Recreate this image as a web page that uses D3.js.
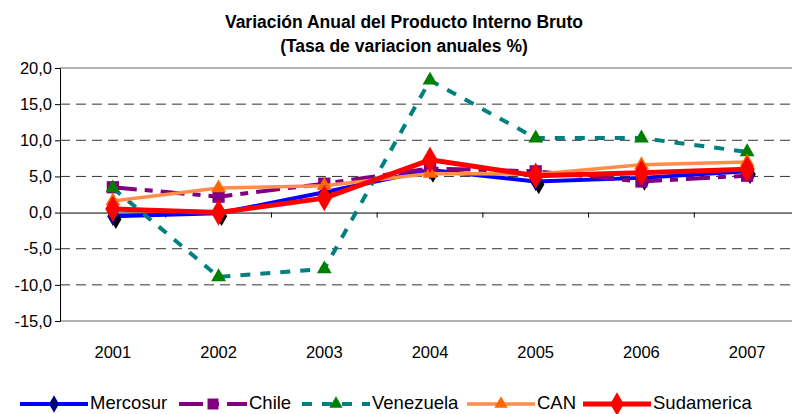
<!DOCTYPE html>
<html>
<head>
<meta charset="utf-8">
<script src="https://cdn.jsdelivr.net/npm/d3@7"></script>
<style>
  body { margin: 0; background: #fff; }
  svg { display: block; font-family: "Liberation Sans", Arial, sans-serif; }
</style>
</head>
<body>
<div id="chart"></div>
<script>
// data
const years = ['2001', '2002', '2003', '2004', '2005', '2006', '2007'];
const mercosur   = [-0.5, -0.1, 2.8, 5.9, 4.3, 4.8, 5.7];
const chile      = [3.5, 2.2, 4.0, 6.1, 5.7, 4.3, 5.1];
const venezuela  = [3.4, -8.9, -7.8, 18.3, 10.3, 10.3, 8.4];
const can        = [1.6, 3.4, 3.7, 5.4, 5.3, 6.6, 7.0];
const sudamerica = [0.5, 0.0, 2.0, 7.3, 5.1, 5.5, 6.0];
const yTicks = [20, 15, 10, 5, 0, -5, -10, -15];

const series = [
    { name: 'Mercosur', values: mercosur, color: '#0000ff', width: 4, dash: null, marker: 'diamond', mColor: '#000080', mSize: 110, shadow: true },
    { name: 'Chile', values: chile, color: '#800080', width: 4, dash: '24,8,8,8', marker: 'square', mColor: '#800080', mSize: 150 },
    { name: 'Venezuela', values: venezuela, color: '#008080', width: 4, dash: '10,10', marker: 'triangle', mColor: '#008000', mSize: 95 },
    { name: 'CAN', values: can, color: '#ff8c4a', width: 3.5, dash: null, marker: 'triangle', mColor: '#ff6600', mSize: 95 },
    { name: 'Sudamerica', values: sudamerica, color: '#ff0000', width: 5, dash: null, marker: 'diamond', mColor: '#ff0000', mSize: 200 }
];

const W = 792, H = 414;
const svg = d3.select('#chart').append('svg')
    .attr('width', W).attr('height', H);

const x = d3.scaleBand().domain(years).range([60, 800]);
const y = d3.scaleLinear().domain([-15, 20]).range([321, 68]);
const cx = d => x(d) + x.bandwidth() / 2;

// title
svg.append('text').attr('x', 404).attr('y', 28)
    .attr('text-anchor', 'middle').attr('font-size', 17.5).attr('font-weight', 'bold')
    .text('Variación Anual del Producto Interno Bruto');
svg.append('text').attr('x', 404).attr('y', 52)
    .attr('text-anchor', 'middle').attr('font-size', 17.5).attr('font-weight', 'bold')
    .text('(Tasa de variacion anuales %)');

//Gridlines
svg.append('g').selectAll('line')
    .data(yTicks.filter(d => d != 0 && d != 20 && d != -15))
    .enter().append('line')
    .attr('x1', 60).attr('x2', W)
    .attr('y1', d => y(d)).attr('y2', d => y(d))
    .attr('stroke', '#333').attr('stroke-width', 1)
    .attr('stroke-dasharray', '10,6');

// frame top / bottom
svg.append('line').attr('x1', 60).attr('x2', W).attr('y1', y(20)).attr('y2', y(20))
    .attr('stroke', '#999').attr('stroke-width', 1.5);
svg.append('line').attr('x1', 60).attr('x2', W).attr('y1', y(-15)).attr('y2', y(-15))
    .attr('stroke', '#999').attr('stroke-width', 1.5);

// y axis
const yAxis = svg.append('g')
    .attr('transform', 'translate(60,0)')
    .call(d3.axisLeft(y).tickValues(yTicks).tickSize(5)
        .tickFormat(d => d3.format('.1f')(d).replace('.', ',').replace('−', '-')));
yAxis.select('.domain').attr('stroke', '#000');
yAxis.selectAll('text').attr('font-size', 16.5).attr('fill', '#000')
    .attr('font-family', '"Liberation Sans", Arial, sans-serif');

// x axis at zero
const xAxis = svg.append('g')
    .attr('transform', `translate(0,${y(0)})`)
    .call(d3.axisBottom(x).tickSize(0).tickFormat(''));
xAxis.select('.domain').attr('stroke', '#000');
svg.append('g').selectAll('line')
    .data(years.slice(1))
    .enter().append('line')
    .attr('x1', d => x(d)).attr('x2', d => x(d))
    .attr('y1', y(0)).attr('y2', y(0) + 5)
    .attr('stroke', '#000');

// x labels at bottom
svg.append('g').selectAll('text')
    .data(years).enter().append('text')
    .attr('x', d => cx(d)).attr('y', 358)
    .attr('text-anchor', 'middle').attr('font-size', 16.5)
    .text(d => d);

const symType = { diamond: d3.symbolDiamond, square: d3.symbolSquare, triangle: d3.symbolTriangle };

//Render lines
const line = d3.line().x((d, i) => cx(years[i])).y(d => y(d));

series.forEach(s => {
    svg.append('path')
        .datum(s.values)
        .attr('fill', 'none')
        .attr('stroke', s.color)
        .attr('stroke-width', s.width)
        .attr('stroke-dasharray', s.dash)
        .attr('stroke-linejoin', 'round')
        .attr('d', line);

    const sym = d3.symbol().type(symType[s.marker]).size(s.mSize);
    const g = svg.append('g');
    if (s.shadow) {
        g.selectAll('.sh').data(s.values).enter().append('path')
            .attr('transform', (d, i) => `translate(${cx(years[i]) + 3},${y(d) + 3})`)
            .attr('d', sym).attr('fill', '#000');
    }
    g.selectAll('.mk').data(s.values).enter().append('path')
        .attr('transform', (d, i) => `translate(${cx(years[i])},${y(d)})`)
        .attr('d', sym).attr('fill', s.mColor);
});

// legend
const legendX = [20, 179, 302, 467, 583];
const lg = svg.append('g');
series.forEach((s, i) => {
    const x0 = legendX[i];
    const ly = 404;
    lg.append('line')
        .attr('x1', x0).attr('x2', x0 + 68)
        .attr('y1', ly).attr('y2', ly)
        .attr('stroke', s.color).attr('stroke-width', s.width)
        .attr('stroke-dasharray', s.dash);
    const sym = d3.symbol().type(symType[s.marker]).size(s.mSize * 0.8);
    lg.append('path')
        .attr('transform', `translate(${x0 + 34},${ly})`)
        .attr('d', sym).attr('fill', s.mColor);
    lg.append('text')
        .attr('x', x0 + 70).attr('y', 409)
        .attr('font-size', 18.5)
        .text(s.name);
});
</script>
</body>
</html>
